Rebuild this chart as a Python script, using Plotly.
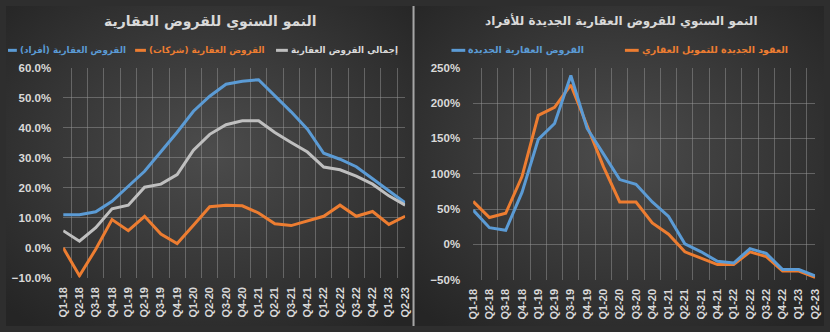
import base64
import plotly.graph_objects as go

quarters = ["Q1-18", "Q2-18", "Q3-18", "Q4-18", "Q1-19", "Q2-19", "Q3-19", "Q4-19",
            "Q1-20", "Q2-20", "Q3-20", "Q4-20", "Q1-21", "Q2-21", "Q3-21", "Q4-21",
            "Q1-22", "Q2-22", "Q3-22", "Q4-22", "Q1-23", "Q2-23"]

# Left panel (fractions)
individuals = [0.11, 0.11, 0.12, 0.155, 0.205, 0.255, 0.32, 0.385, 0.455, 0.505, 0.545, 0.555,
               0.56, 0.507, 0.453, 0.395, 0.315, 0.295, 0.27, 0.23, 0.19, 0.15]
companies = [0.0, -0.093, -0.005, 0.094, 0.057, 0.105, 0.046, 0.014, 0.075, 0.137, 0.142, 0.14,
             0.116, 0.08, 0.074, 0.089, 0.105, 0.142, 0.105, 0.121, 0.078, 0.105]
total = [0.057, 0.022, 0.067, 0.13, 0.142, 0.202, 0.212, 0.244, 0.325, 0.378, 0.41, 0.423,
         0.423, 0.384, 0.351, 0.319, 0.269, 0.26, 0.239, 0.212, 0.173, 0.142]

# Right panel (fractions)
new_loans = [0.485, 0.236, 0.20, 0.735, 1.485, 1.71, 2.39, 1.64, 1.28, 0.917, 0.85, 0.60,
             0.395, 0.008, -0.105, -0.24, -0.264, -0.06, -0.128, -0.355, -0.355, -0.446]
new_contracts = [0.608, 0.38, 0.44, 0.96, 1.825, 1.94, 2.256, 1.666, 1.10, 0.60, 0.60, 0.304,
                 0.144, -0.105, -0.196, -0.286, -0.286, -0.105, -0.173, -0.377, -0.377, -0.468]

left_title = "النمو السنوي للقروض العقارية"
right_title = "النمو السنوي للقروض العقارية الجديدة للأفراد"
left_names = ["القروض العقارية (أفراد)", "القروض العقارية (شركات)", "إجمالي القروض العقارية"]
right_names = ["القروض العقارية الجديدة", "العقود الجديدة للتمويل العقاري"]

BLUE = "#5b9bd5"
ORANGE = "#ed7d31"
GRAY = "#bfbfbf"
TXT = "#d9d9d9"
GRID = "rgba(150,150,150,0.5)"
AR_FONT = "DejaVu Sans"
NUM_FONT = "Liberation Sans"

W, H = 830, 332

fig = go.Figure()

fig.add_trace(go.Scatter(x=quarters, y=individuals, mode="lines", name=left_names[0],
                         line=dict(color=BLUE, width=3), xaxis="x", yaxis="y", showlegend=False))
fig.add_trace(go.Scatter(x=quarters, y=companies, mode="lines", name=left_names[1],
                         line=dict(color=ORANGE, width=3), xaxis="x", yaxis="y", showlegend=False))
fig.add_trace(go.Scatter(x=quarters, y=total, mode="lines", name=left_names[2],
                         line=dict(color=GRAY, width=3), xaxis="x", yaxis="y", showlegend=False))
fig.add_trace(go.Scatter(x=quarters, y=new_contracts, mode="lines", name=right_names[1],
                         line=dict(color=ORANGE, width=3), xaxis="x2", yaxis="y2", showlegend=False))
fig.add_trace(go.Scatter(x=quarters, y=new_loans, mode="lines", name=right_names[0],
                         line=dict(color=BLUE, width=3), xaxis="x2", yaxis="y2", showlegend=False))

# background radial gradients (one per panel)
def grad_svg(w, h):
    svg = (f"<svg xmlns='http://www.w3.org/2000/svg' width='{w}' height='{h}' viewBox='0 0 {w} {h}' preserveAspectRatio='none'>"
           "<defs><radialGradient id='g' cx='50%' cy='45%' r='70%'>"
           "<stop offset='0%' stop-color='#4c4c4c'/><stop offset='100%' stop-color='#252525'/>"
           "</radialGradient></defs>"
           f"<rect width='{w}' height='{h}' fill='url(#g)'/></svg>")
    return "data:image/svg+xml;base64," + base64.b64encode(svg.encode()).decode()

images = [
    dict(source=grad_svg(413, 332), xref="paper", yref="paper", x=0, y=1,
         sizex=413 / W, sizey=1, sizing="stretch", layer="below", xanchor="left", yanchor="top"),
    dict(source=grad_svg(415, 332), xref="paper", yref="paper", x=415 / W, y=1,
         sizex=415 / W, sizey=1, sizing="stretch", layer="below", xanchor="left", yanchor="top"),
]

xcommon = dict(type="category", tickson="boundaries", showgrid=True, gridcolor=GRID, gridwidth=1,
               ticks="", tickangle=-90, ticklabelstandoff=6,
               tickfont=dict(family=NUM_FONT, size=11, color=TXT, weight="bold"),
               showline=False, zeroline=False, fixedrange=True)
ycommon = dict(showgrid=True, gridcolor=GRID, gridwidth=1, zeroline=False, ticks="",
               tickfont=dict(family=NUM_FONT, size=11.5, color=TXT, weight="bold"), showline=False)

fig.update_layout(
    width=W, height=H, margin=dict(l=0, r=0, t=0, b=0),
    paper_bgcolor="#2e2e2e", plot_bgcolor="rgba(0,0,0,0)",
    images=images, showlegend=False,
    xaxis=dict(domain=[58 / W, 405 / W], anchor="y", **xcommon),
    yaxis=dict(domain=[1 - 282 / H, 1 - 64 / H], anchor="x", range=[-0.10, 0.60], dtick=0.1,
               tickformat=".1%", ticklabelstandoff=11, **ycommon),
    xaxis2=dict(domain=[474 / W, 821 / W], anchor="y2", **xcommon),
    yaxis2=dict(domain=[1 - 284 / H, 1 - 64 / H], anchor="x2", range=[-0.5, 2.5], dtick=0.5,
                tickformat=".0%", ticklabelstandoff=12, **ycommon),
)

shapes = [dict(type="line", xref="paper", yref="paper", x0=413.5 / W, x1=413.5 / W, y0=0, y1=1,
               line=dict(color="#a6a6a6", width=2))]

def leg_line(x0, x1, y, color):
    return dict(type="line", xref="paper", yref="paper", x0=x0 / W, x1=x1 / W,
                y0=1 - y / H, y1=1 - y / H, line=dict(color=color, width=3))

annotations = []
def leg_text(x, y, text, color, size):
    annotations.append(dict(text=f"<b>{text}</b>", xref="paper", yref="paper", x=x / W, y=1 - y / H,
                            xanchor="left", yanchor="middle", showarrow=False,
                            font=dict(family=AR_FONT, size=size, color=color)))

y_leg = 46
shapes.append(leg_line(2, 11, y_leg, BLUE)); leg_text(12, y_leg, left_names[0], BLUE, 8.8)
shapes.append(leg_line(131, 142, y_leg, ORANGE)); leg_text(143, y_leg, left_names[1], ORANGE, 8.8)
shapes.append(leg_line(274, 286, y_leg, GRAY)); leg_text(287, y_leg, left_names[2], TXT, 8.8)

shapes.append(leg_line(452, 466, y_leg, BLUE)); leg_text(467, y_leg, right_names[0], BLUE, 9.5)
shapes.append(leg_line(628, 642, y_leg, ORANGE)); leg_text(643, y_leg, right_names[1], ORANGE, 9.5)

annotations.append(dict(text=f"<b>{left_title}</b>", xref="paper", yref="paper", x=207 / W, y=1 - 17 / H,
                        xanchor="center", yanchor="middle", showarrow=False,
                        font=dict(family=AR_FONT, size=14, color=TXT)))
annotations.append(dict(text=f"<b>{right_title}</b>", xref="paper", yref="paper", x=625 / W, y=1 - 16 / H,
                        xanchor="center", yanchor="middle", showarrow=False,
                        font=dict(family=AR_FONT, size=12, color=TXT)))

fig.update_layout(shapes=shapes, annotations=annotations)

fig.write_html("out.html")
